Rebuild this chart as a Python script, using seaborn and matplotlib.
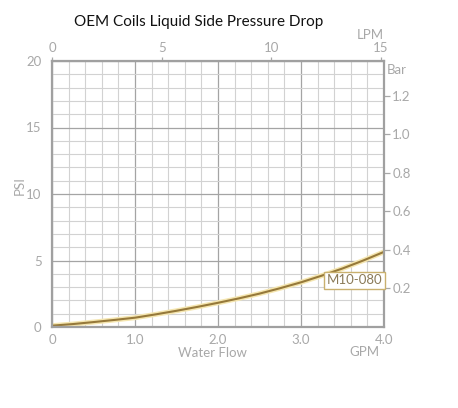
import matplotlib
matplotlib.use("Agg")
import matplotlib.pyplot as plt
import seaborn as sns
import numpy as np
import pandas as pd
from matplotlib.ticker import MultipleLocator, FixedLocator, FixedFormatter

sns.set_theme(style="white")
plt.rcParams['font.family'] = ['Lato', 'DejaVu Sans']

# ---- data ----
title = "OEM Coils Liquid Side Pressure Drop"
series_name = "M10-080"
gpm = [0.0, 0.25, 0.5, 0.75, 1.0, 1.25, 1.5, 1.75, 2.0, 2.25, 2.5, 2.75, 3.0, 3.25, 3.5, 3.75, 4.0]
psi = [0.10, 0.22, 0.37, 0.53, 0.70, 0.95, 1.22, 1.51, 1.82, 2.15, 2.51, 2.92, 3.36, 3.86, 4.40, 5.00, 5.65]
gpm_ticks = [0, 1.0, 2.0, 3.0, 4.0]
gpm_labels = ["0", "1.0", "2.0", "3.0", "4.0"]
psi_ticks = [0, 5, 10, 15, 20]
lpm_ticks = [0, 5, 10, 15]
bar_ticks = [0.2, 0.4, 0.6, 0.8, 1.0, 1.2]
bar_labels = ["0.2", "0.4", "0.6", "0.8", "1.0", "1.2"]

LPM_PER_GPM = 3.78541
PSI_PER_BAR = 14.5038

df = pd.DataFrame({"gpm": gpm, "psi": psi})

tick_col = "#a8a8a8"
spine_col = "#a0a0a0"
line_col = "#96793a"
glow_col = "#f5e6b0"

fig = plt.figure(figsize=(4.58, 4.08), dpi=100)
ax = fig.add_axes([52/458, 1-327/408, (384-52)/458, (327-61)/408])
ax.set_facecolor("white")

ax.set_xlim(0, 4.0)
ax.set_ylim(0, 20)

# grid
ax.xaxis.set_minor_locator(MultipleLocator(0.2))
ax.yaxis.set_minor_locator(MultipleLocator(1))
ax.xaxis.set_major_locator(FixedLocator(gpm_ticks))
ax.xaxis.set_major_formatter(FixedFormatter(gpm_labels))
ax.yaxis.set_major_locator(FixedLocator(psi_ticks))
ax.grid(which="minor", color="#d2d2d2", linewidth=0.8)
ax.grid(which="major", color="#a4a4a4", linewidth=0.9)
ax.set_axisbelow(True)

# curve with glow
sns.lineplot(data=df, x="gpm", y="psi", ax=ax, color=glow_col, linewidth=3.6, legend=False)
sns.lineplot(data=df, x="gpm", y="psi", ax=ax, color=line_col, linewidth=1.5, legend=False)

for s in ax.spines.values():
    s.set_color(spine_col)
    s.set_linewidth(1.6)

ax.tick_params(axis="both", which="major", colors=tick_col, labelsize=9.5, length=4, width=0.9)
ax.tick_params(axis="both", which="minor", length=0)
ax.tick_params(axis="x", which="major", length=2, pad=3)
ax.set_xlabel("")
ax.set_ylabel("")

# secondary axes
top = ax.secondary_xaxis("top", functions=(lambda x: x*LPM_PER_GPM, lambda x: x/LPM_PER_GPM))
top.xaxis.set_major_locator(FixedLocator(lpm_ticks))
top.tick_params(colors=tick_col, labelsize=9.5, length=3, width=0.9, pad=2)
top.spines["top"].set_visible(False)

right = ax.secondary_yaxis("right", functions=(lambda y: y/PSI_PER_BAR, lambda y: y*PSI_PER_BAR))
right.yaxis.set_major_locator(FixedLocator(bar_ticks))
right.yaxis.set_major_formatter(FixedFormatter(bar_labels))
right.tick_params(colors=tick_col, labelsize=9.5, length=4, width=0.9, pad=2)
right.spines["right"].set_visible(False)

# label box
ax.text(3.65, 3.5, series_name, fontsize=9.5, color="#8a7a58", ha="center", va="center",
        bbox=dict(boxstyle="square,pad=0.2", facecolor="white", edgecolor="#c9b06e", linewidth=1))

# axis labels
fig.text(199/458, 1-22/408, title, fontsize=11, color="#111111", ha="center", va="center")
fig.text(212/458, 1-353/408, "Water Flow", fontsize=9.5, color=tick_col, ha="center", va="center")
fig.text(364/458, 1-352/408, "GPM", fontsize=9.5, color=tick_col, ha="center", va="center")
fig.text(370/458, 1-35/408, "LPM", fontsize=9.5, color=tick_col, ha="center", va="center")
fig.text(397/458, 1-70/408, "Bar", fontsize=9.5, color=tick_col, ha="center", va="center")
fig.text(20/458, 1-186/408, "PSI", fontsize=9.5, color=tick_col, ha="center", va="center", rotation=90)

fig.savefig("out.png", dpi=100, facecolor="white")
